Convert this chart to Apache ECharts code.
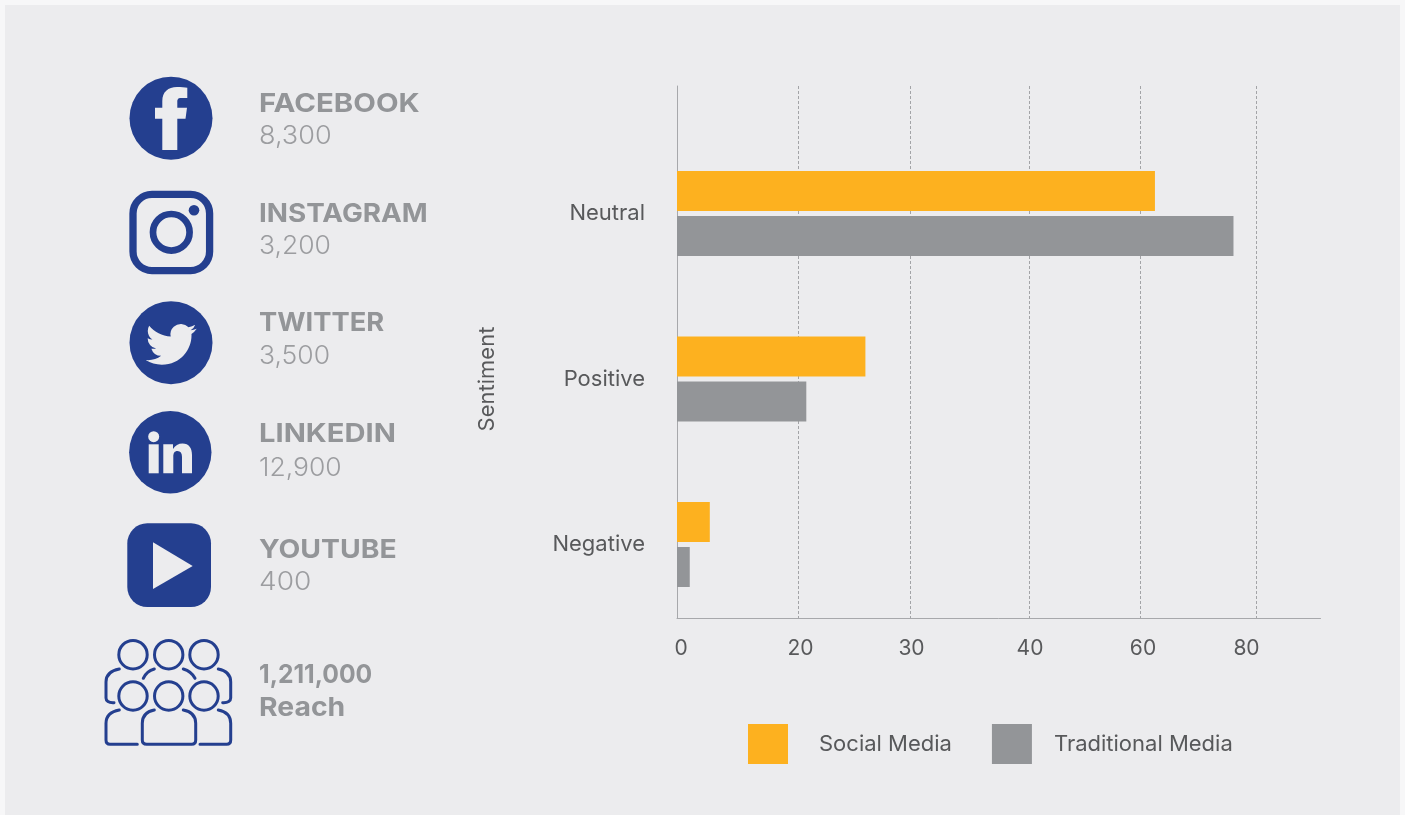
<!DOCTYPE html>
<html>
<head>
<meta charset="utf-8">
<style>html,body{margin:0;padding:0;background:#f7f7f8}#chart{width:1405px;height:815px}</style>
<script src="https://cdn.jsdelivr.net/npm/echarts@6/dist/echarts.min.js"></script>
</head>
<body>
<div id="chart"></div>
<script>
// Sentiment by media type
const categories = ['Negative', 'Positive', 'Neutral'];
const socialMedia = [5.4, 26, 62.5];
const traditionalMedia = [2.1, 20.7, 76.1];
const tickLabels = [0, 20, 30, 40, 60, 80];

// Platform summary
const platformNames = ['FACEBOOK', 'INSTAGRAM', 'TWITTER', 'LINKEDIN', 'YOUTUBE'];
const platformCounts = ['8,300', '3,200', '3,500', '12,900', '400'];
const reachTotal = '1,211,000';
const reachLabel = 'Reach';

const FONT = 'Inter, "Noto Sans", sans-serif';
const NAVY = '#243f8f';
const PANEL = '#ececee';
const ORANGE = '#fdb11f';
const GREY = '#939598';
const INK = '#58595b';

// The value axis is stepped: each tick sits at its own offset, with linear
// interpolation between neighbouring ticks.
const tickOffsets = [0, 121.5, 233, 352, 463.5, 579];
const labelNudge = [4, 2, 1.5, 1, 2.5, -9.5];
const labelOffsets = tickOffsets.map((o, i) => o + labelNudge[i]);
const axisEnd = 643.5;
function toAxis(v) {
  for (let i = 1; i < tickLabels.length; i++) {
    if (v <= tickLabels[i]) {
      const t = (v - tickLabels[i - 1]) / (tickLabels[i] - tickLabels[i - 1]);
      return tickOffsets[i - 1] + t * (tickOffsets[i] - tickOffsets[i - 1]);
    }
  }
  return tickOffsets[tickOffsets.length - 1];
}

const BIRD = 'M23.953 4.57a10 10 0 0 1-2.825.775 4.958 4.958 0 0 0 2.163-2.723c-.951.555-2.005.959-3.127 1.184a4.92 4.92 0 0 0-8.384 4.482C7.69 8.095 4.067 6.13 1.64 3.162a4.822 4.822 0 0 0-.666 2.475c0 1.71.87 3.213 2.188 4.096a4.904 4.904 0 0 1-2.228-.616v.06a4.923 4.923 0 0 0 3.946 4.827 4.996 4.996 0 0 1-2.212.085 4.936 4.936 0 0 0 4.604 3.417 9.867 9.867 0 0 1-6.102 2.105c-.39 0-.779-.023-1.17-.067a13.995 13.995 0 0 0 7.557 2.209c9.053 0 13.998-7.496 13.998-13.985 0-.21 0-.42-.015-.63A9.935 9.935 0 0 0 24 4.59z';

const solid = (fill) => ({ fill });
const line = (w) => ({ fill: 'none', stroke: NAVY, lineWidth: w, lineCap: 'round', lineJoin: 'round' });

function disc(cx, cy, r, fill) {
  return { type: 'circle', shape: { cx, cy, r }, style: solid(fill || NAVY) };
}
function ring(cx, cy, r, w) {
  return { type: 'circle', shape: { cx, cy, r }, style: line(w) };
}
// Free-form icon outlines are registered as shape classes for the graphic component.
let glyphCount = 0;
function glyph(pathData, style, extra) {
  const type = 'iconGlyph' + (++glyphCount);
  echarts.graphic.registerShape(type, echarts.graphic.extendPath(pathData));
  return Object.assign({ type, style }, extra || {});
}
function heading(text, y, stretch) {
  return { type: 'text', x: 259, y, scaleX: stretch, style: { text, font: '700 26px ' + FONT, fill: GREY, textVerticalAlign: 'middle' } };
}
function figure(text, y, stretch) {
  return { type: 'text', x: 259, y, scaleX: stretch, style: { text, font: '300 26px ' + FONT, fill: '#9c9da0', textVerticalAlign: 'middle' } };
}

const icons = [
  // Facebook
  disc(171, 118.2, 41.5),
  glyph('M162.3 150V118.7H155V107.7H162.3V101C162.3 92 168 87 177 87C181 87 185 87.3 187.3 87.7V98H181C178 98 177.3 99.5 177.3 102V107.7H187L185.5 118.7H177.3V150Z', solid(PANEL)),
  // Instagram
  { type: 'rect', shape: { x: 133, y: 194.4, width: 76.6, height: 76.2, r: 19 }, style: line(7.3) },
  ring(171.3, 232.3, 18.3, 6.7),
  disc(194, 210.3, 5.3),
  // Twitter
  disc(171, 342.7, 41.5),
  glyph(BIRD, solid(PANEL), { x: 145.7, y: 319.2, scaleX: 2.125, scaleY: 2.09 }),
  // LinkedIn
  disc(170.3, 452.2, 41.2),
  { type: 'rect', shape: { x: 148.7, y: 444.3, width: 10, height: 29 }, style: solid(PANEL) },
  disc(153.7, 436.7, 5.5, PANEL),
  glyph('M163.3 444.3H173V449C175 445.5 178.5 443.5 182.5 443.5C189 443.5 192 448 192 455V473.3H182V457C182 453 180.5 451 177.5 451C174.5 451 173.3 453 173.3 457V473.3H163.3Z', solid(PANEL)),
  // YouTube
  { type: 'rect', shape: { x: 127.3, y: 523.3, width: 83.7, height: 83.7, r: 20 }, style: solid(NAVY) },
  { type: 'polygon', shape: { points: [[153, 542.3], [192.7, 566], [153, 589]] }, style: solid(PANEL) },
  // Audience group
  ring(133, 654.7, 14.2, 3), ring(168.7, 654.7, 14.2, 3), ring(204, 654.7, 14.2, 3),
  ring(133, 696, 14.2, 3), ring(168.7, 696, 14.2, 3), ring(204, 696, 14.2, 3),
  glyph('M119.3 669C111 670.5 106 675 106 682V698C106 701 108.5 703 114 702.7', line(3)),
  glyph('M218.3 669C226 670.5 230.7 675 230.7 682V698C230.7 701 228 703 222.7 702.7', line(3)),
  glyph('M143.3 678.3C145.5 673.5 149 670.5 154.3 669', line(3)),
  glyph('M183.3 669C188.5 670.5 192.5 673.5 195 678.3', line(3)),
  glyph('M119.3 710C111 711.5 106 716 106 723.3V740C106 743 107.5 744.3 110 744.3H137.3', line(3)),
  glyph('M218.3 710C226 711.5 230.7 716 230.7 723.3V740C230.7 743 229 744.3 226.7 744.3H200', line(3)),
  glyph('M154.3 710C146 711.5 142.3 716 142.3 723.3V740C142.3 743 144 744.3 146.7 744.3H191.7C194.3 744.3 195.7 743 195.7 740V723.3C195.7 716 191.5 711.5 183.3 710', line(3))
];

const headingY = [104.5, 214.5, 323.5, 434.5, 550.5];
const figureY = [136, 246, 356, 468, 582];
const headingStretch = [1.13, 1.07, 1.05, 1.12, 1.09];
const figureStretch = [1.04, 1.02, 1.02, 1.02, 1.08];
const summaryText = [];
platformNames.forEach((name, i) => {
  summaryText.push(heading(name, headingY[i], headingStretch[i]));
  summaryText.push(figure(platformCounts[i], figureY[i], figureStretch[i]));
});
summaryText.push(heading(reachTotal, 675.5, 0.95));
summaryText.push(heading(reachLabel, 708.5, 1.09));

const panel = { type: 'rect', shape: { x: 5, y: 5, width: 1395, height: 810 }, style: solid(PANEL), z: -10 };

const chart = echarts.init(document.getElementById('chart'));
chart.setOption({
  animation: false,
  backgroundColor: '#f7f7f8',
  textStyle: { fontFamily: FONT },
  graphic: { elements: [panel].concat(icons, summaryText) },
  legend: {
    left: 748,
    top: 724,
    padding: 0,
    itemWidth: 40,
    itemHeight: 40,
    itemGap: 40,
    icon: 'rect',
    selectedMode: false,
    data: [
      { name: 'Social Media', textStyle: { padding: [0, 0, 0, 26] } },
      { name: 'Traditional Media', textStyle: { padding: [0, 0, 0, 17] } }
    ],
    textStyle: { color: INK, fontSize: 22, fontFamily: FONT }
  },
  grid: [
    { left: 677, width: 643.5, top: 86, height: 532, containLabel: false },
    { left: 677, width: 643.5, top: 130.75, height: 496.5, containLabel: false }
  ],
  xAxis: [
    {
      type: 'value',
      gridIndex: 0,
      min: 0,
      max: axisEnd,
      axisLine: { show: true, lineStyle: { color: '#a7a8ab', width: 1 } },
      axisTick: { show: false, customValues: tickOffsets },
      splitLine: { show: true, showMinLine: false, lineStyle: { color: '#a3a4a7', width: 1, type: [3, 2] } },
      axisLabel: {
        customValues: labelOffsets,
        formatter: (value) => String(tickLabels[labelOffsets.indexOf(value)]),
        color: INK,
        fontSize: 21,
        fontFamily: FONT,
        margin: 20
      }
    },
    { type: 'value', gridIndex: 1, min: 0, max: axisEnd, show: false }
  ],
  yAxis: [
    {
      type: 'category',
      gridIndex: 0,
      data: [],
      axisLine: { show: true, onZero: false, lineStyle: { color: '#a7a8ab', width: 1 } },
      axisTick: { show: false },
      axisLabel: { show: false }
    },
    {
      type: 'category',
      gridIndex: 1,
      data: categories,
      axisLine: { show: false },
      axisTick: { show: false },
      axisLabel: { color: INK, fontSize: 22, fontFamily: FONT, margin: 32 },
      name: 'Sentiment',
      nameLocation: 'middle',
      nameRotate: 90,
      nameGap: 179,
      nameTextStyle: { color: INK, fontSize: 22, fontFamily: FONT }
    }
  ],
  series: [
    {
      name: 'Social Media',
      type: 'bar',
      xAxisIndex: 1,
      yAxisIndex: 1,
      data: socialMedia.map(toAxis),
      barWidth: 40,
      barGap: '12.5%',
      itemStyle: { color: ORANGE },
      z: 3
    },
    {
      name: 'Traditional Media',
      type: 'bar',
      xAxisIndex: 1,
      yAxisIndex: 1,
      data: traditionalMedia.map(toAxis),
      barWidth: 40,
      barGap: '12.5%',
      itemStyle: { color: GREY },
      z: 3
    }
  ]
});
</script>
</body>
</html>
